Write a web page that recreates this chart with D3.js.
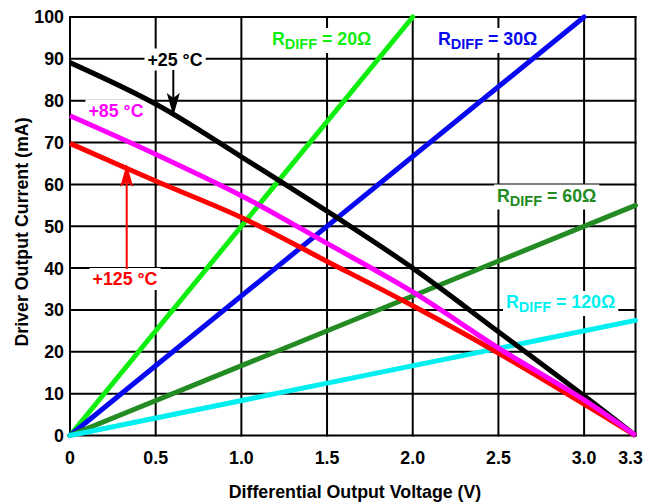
<!DOCTYPE html>
<html><head><meta charset="utf-8">
<script src="https://cdn.jsdelivr.net/npm/d3@7"></script>
<style>
body{margin:0;background:#fff;}
svg{display:block;font-family:"Liberation Sans",Arial,Helvetica,sans-serif;font-weight:bold;}
</style></head>
<body><svg id="c" width="655" height="504"></svg>
<script>
// ---- data ----
const voltage = [0, 0.5, 1.0, 1.5, 2.0, 2.5, 3.0, 3.3];
const cur25  = [89.1, 79.2, 66.6, 53.6, 40.0, 24.8, 9.5, 0];
const cur85  = [76.4, 67.2, 57.3, 45.9, 34.3, 20.9, 8.5, 0];
const cur125 = [69.8, 60.8, 52.1, 41.6, 31.0, 19.7, 7.5, 0];

const r20V = [0, 2.0],  r20I = [0, 100];
const r30V = [0, 3.0],  r30I = [0, 100];
const r60V = [0, 3.3],  r60I = [0, 55];
const r120V = [0, 3.3], r120I = [0, 27.5];

const xTicks = [0, 0.5, 1.0, 1.5, 2.0, 2.5, 3.0, 3.3];
const xTickLabels = ["0", "0.5", "1.0", "1.5", "2.0", "2.5", "3.0", "3.3"];
const yTicks = [0, 10, 20, 30, 40, 50, 60, 70, 80, 90, 100];

const xTitle = "Differential Output Voltage (V)";
const yTitle = "Driver Output Current (mA)";

// ---- drawing ----
const svg = d3.select("#c");
const x = d3.scaleLinear().domain([0, 3.3]).range([70, 635.5]);
const y = d3.scaleLinear().domain([0, 100]).range([435.5, 17]);
const FS = 17.8;

const GREEN = "#10ee10", BLUE = "#0808f0", DKGREEN = "#228b22", CYAN = "#00f0f0";

// grid
const g = svg.append("g").attr("stroke", "#000").attr("stroke-width", 2);
g.selectAll("line.h").data(yTicks).join("line")
  .attr("x1", x(0) - 1).attr("x2", x(3.3) + 1)
  .attr("y1", d => y(d)).attr("y2", d => y(d));
g.selectAll("line.v").data(xTicks).join("line")
  .attr("y1", y(0) + 1).attr("y2", y(100) - 1)
  .attr("x1", d => x(d)).attr("x2", d => x(d));

// tick labels
svg.append("g").selectAll("text").data(yTicks).join("text")
  .attr("x", 64).attr("y", d => y(d)).attr("dy", "0.36em")
  .attr("text-anchor", "end").attr("font-size", FS).text(d => d);
svg.append("g").selectAll("text").data(xTicks).join("text")
  .attr("x", (d, i) => x(d) + (i === xTicks.length - 1 ? -5 : 0)).attr("y", 464)
  .attr("text-anchor", "middle").attr("font-size", FS).text((d, i) => xTickLabels[i]);

// axis titles
svg.append("text").attr("x", 355).attr("y", 498).attr("text-anchor", "middle")
  .attr("font-size", FS).text(xTitle);
svg.append("text").attr("transform", "translate(28,232) rotate(-90)")
  .attr("text-anchor", "middle").attr("font-size", FS).text(yTitle);

// labels with white background
function label(txt, xx, yy, color, anchor) {
  const gg = svg.append("g");
  const t = gg.append("text").attr("x", xx).attr("y", yy).attr("fill", color)
    .attr("font-size", FS).attr("text-anchor", anchor || "start");
  if (Array.isArray(txt)) {
    t.append("tspan").text(txt[0]);
    t.append("tspan").attr("font-size", 14.5).attr("dy", 4).text(txt[1]);
    t.append("tspan").attr("dy", -4).text(txt[2]);
  } else t.text(txt);
  const b = t.node().getBBox();
  gg.insert("rect", "text").attr("x", b.x - 3).attr("y", b.y - 1)
    .attr("width", b.width + 6).attr("height", b.height + 2).attr("fill", "#fff");
  return gg;
}

label(["R", "DIFF", " = 20Ω"], 272, 45, GREEN);
label(["R", "DIFF", " = 30Ω"], 438, 45, BLUE);
label(["R", "DIFF", " = 60Ω"], 497, 201.5, DKGREEN);
label(["R", "DIFF", " = 120Ω"], 506, 308, CYAN);
label("+25 °C", 175, 65.5, "#000", "middle");
label("+85 °C", 116, 116.5, "#ff00ff", "middle");
label("+125 °C", 125, 285, "#ff0000", "middle");

// resistance lines
const line = d3.line().x(d => x(d[0])).y(d => y(d[1]));
const rl = [[r20V, r20I, GREEN], [r30V, r30I, BLUE], [r60V, r60I, DKGREEN], [r120V, r120I, CYAN]];
rl.forEach(([vs, is, c]) => {
  svg.append("path").attr("d", line(vs.map((v, i) => [v, is[i]])))
    .attr("fill", "none").attr("stroke", c).attr("stroke-width", 5).attr("stroke-linecap", "round");
});

// temperature curves
const cl = d3.line().x(d => x(d[0])).y(d => y(d[1])).curve(d3.curveCatmullRom.alpha(0.5));
[[cur125, "#ff0000"], [cur25, "#000000"], [cur85, "#ff00ff"]].forEach(([cs, c]) => {
  svg.append("path").attr("d", cl(voltage.map((v, i) => [v, cs[i]])))
    .attr("fill", "none").attr("stroke", c).attr("stroke-width", 5).attr("stroke-linecap", "butt");
});

// arrows
function arrow(xx, y0, y1, color) {
  const dir = y1 > y0 ? 1 : -1;
  svg.append("line").attr("x1", xx).attr("x2", xx).attr("y1", y0).attr("y2", y1 - dir * 18)
    .attr("stroke", color).attr("stroke-width", 2);
  const hl = 23, hw = 6.5, notch = 5;
  svg.append("path").attr("fill", color).attr("d",
    `M${xx},${y1} L${xx - hw},${y1 - dir * hl} L${xx},${y1 - dir * (hl - notch)} L${xx + hw},${y1 - dir * hl} Z`);
}
arrow(173.3, 70, 116, "#000");
arrow(126.7, 269, 164, "#ff0000");
</script></body></html>
